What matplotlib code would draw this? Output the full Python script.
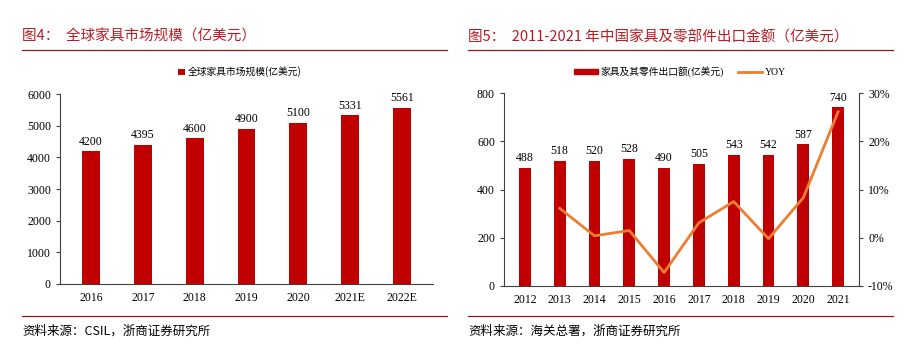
import matplotlib.pyplot as plt
from matplotlib.ticker import FuncFormatter
from matplotlib.lines import Line2D

plt.rcParams['font.family'] = ['Liberation Serif', 'Noto Sans CJK SC']

# left chart data
years_l = ['2016', '2017', '2018', '2019', '2020', '2021E', '2022E']
market = [4200, 4395, 4600, 4900, 5100, 5331, 5561]

# right chart data
years_r = ['2012', '2013', '2014', '2015', '2016', '2017', '2018', '2019', '2020', '2021']
export = [488, 518, 520, 528, 490, 505, 543, 542, 587, 740]
yoy_years = ['2013', '2014', '2015', '2016', '2017', '2018', '2019', '2020', '2021']
yoy = [6.1, 0.4, 1.5, -7.2, 3.1, 7.5, -0.2, 8.3, 26.1]

red = '#C00000'
orange = '#ED7D31'
title_red = '#B81C22'
cjk = ['Noto Sans CJK SC']

fig = plt.figure(figsize=(9.08, 3.51), dpi=100)

def px(x0, y0, x1, y1):
    return [x0/908, 1-y1/351, (x1-x0)/908, (y1-y0)/351]

def style(ax):
    for s in ['top', 'right']:
        ax.spines[s].set_visible(False)
    for s in ['left', 'bottom']:
        ax.spines[s].set_color('#404040')
        ax.spines[s].set_linewidth(0.8)
    ax.tick_params(axis='both', labelsize=8.5, color='#404040', length=3, width=0.8)
    ax.tick_params(axis='x', length=0, pad=6)

# ---------- left ----------
ax1 = fig.add_axes(px(60, 94, 433, 284))
xl = range(len(years_l))
ax1.bar(xl, market, width=0.34, color=red, label='全球家具市场规模(亿美元)')
for x, v in zip(xl, market):
    ax1.text(x, v + 110, str(v), ha='center', va='bottom', fontsize=8.5)
ax1.set_ylim(0, 6000)
ax1.set_yticks(range(0, 6001, 1000))
ax1.set_xlim(-0.6, len(years_l) - 0.4)
ax1.set_xticks(list(xl))
ax1.set_xticklabels(years_l)
style(ax1)
ax1.legend(loc='center', bbox_to_anchor=(240/908, 1-72/351), bbox_transform=fig.transFigure,
           frameon=False, handlelength=0.7, handleheight=0.7, handletextpad=0.3,
           prop={'family': cjk, 'size': 7})

# ---------- right ----------
ax2 = fig.add_axes(px(504, 93, 859, 286))
xr = range(len(years_r))
ax2.bar(xr, export, width=0.34, color=red)
for x, v in zip(xr, export):
    ax2.text(x, v + 16, str(v), ha='center', va='bottom', fontsize=8.5)
ax2.set_ylim(0, 800)
ax2.set_yticks(range(0, 801, 200))
ax2.set_xlim(-0.6, len(years_r) - 0.4)
ax2.set_xticks(list(xr))
ax2.set_xticklabels(years_r)
style(ax2)

ax3 = ax2.twinx()
ax3.plot([years_r.index(y) for y in yoy_years], yoy, color=orange, linewidth=2)
ax3.set_ylim(-10, 30)
ax3.set_yticks([-10, 0, 10, 20, 30])
ax3.yaxis.set_major_formatter(FuncFormatter(lambda v, p: f'{v:.0f}%'))
for s in ['top', 'left', 'bottom']:
    ax3.spines[s].set_visible(False)
ax3.spines['right'].set_color('#404040')
ax3.spines['right'].set_linewidth(0.8)
ax3.tick_params(axis='y', labelsize=8.5, color='#404040', length=3, width=0.8)

handles = [plt.Rectangle((0, 0), 1, 1, color=red), Line2D([0], [0], color=orange, linewidth=2)]
fig.legend(handles, ['家具及其零件出口额(亿美元)', 'YOY'], loc='center',
           bbox_to_anchor=(680/908, 1-72/351), ncol=2, frameon=False,
           handlelength=2.4, handleheight=0.5, handletextpad=0.3, columnspacing=1.5,
           prop={'family': ['Liberation Serif', 'Noto Sans CJK SC'], 'size': 7})

# ---------- titles, rules, sources ----------
fig.text(22/908, 1-37/351, '图4：  全球家具市场规模（亿美元）', color=title_red, fontsize=10.5,
         family=cjk, va='center', ha='left')
fig.text(468/908, 1-37/351, '图5：  2011-2021 年中国家具及零部件出口金额（亿美元）', color=title_red,
         fontsize=10.5, family=['Noto Sans CJK SC'], va='center', ha='left')
for x0, x1 in [(22, 447), (468, 893)]:
    for y in [50, 316]:
        fig.add_artist(Line2D([x0/908, x1/908], [1-y/351, 1-y/351], color='#8B1A1A', linewidth=0.9))
fig.text(22/908, 1-331/351, '资料来源：CSIL，浙商证券研究所', fontsize=9, family=cjk, va='center')
fig.text(468/908, 1-331/351, '资料来源：海关总署，浙商证券研究所', fontsize=9, family=cjk, va='center')

fig.savefig('out.png', dpi=100)
